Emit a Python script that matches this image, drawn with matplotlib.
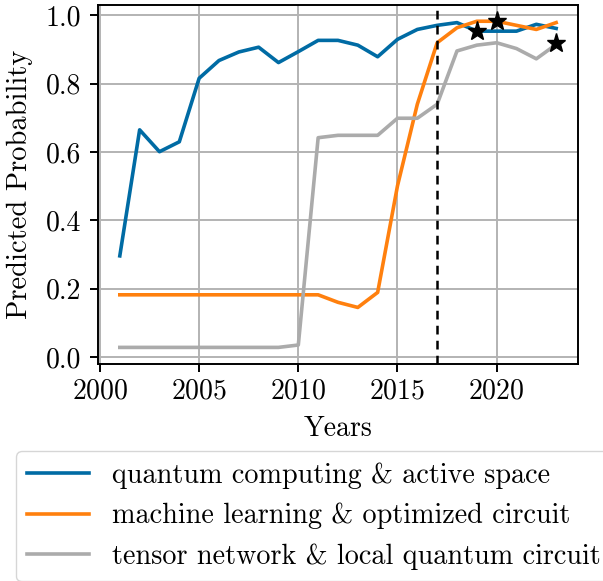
import matplotlib
matplotlib.use('Agg')
import matplotlib.pyplot as plt

plt.style.use('tableau-colorblind10')
plt.rcParams['font.family'] = 'serif'
plt.rcParams['font.serif'] = ['cmr10']
plt.rcParams['mathtext.fontset'] = 'cm'
plt.rcParams['axes.formatter.use_mathtext'] = True
plt.rcParams['font.size'] = 20

years = list(range(2001, 2024))
quantum = [0.296, 0.665, 0.601, 0.630, 0.816, 0.868, 0.893, 0.907, 0.862, 0.894,
           0.927, 0.927, 0.913, 0.879, 0.930, 0.959, 0.971, 0.979, 0.954, 0.954,
           0.954, 0.974, 0.962]
machine = [0.182, 0.182, 0.182, 0.182, 0.182, 0.182, 0.182, 0.182, 0.182, 0.182,
           0.182, 0.160, 0.145, 0.189, 0.501, 0.740, 0.920, 0.964, 0.983, 0.983,
           0.971, 0.959, 0.979]
tensor = [0.028, 0.028, 0.028, 0.028, 0.028, 0.028, 0.028, 0.028, 0.028, 0.035,
          0.642, 0.649, 0.649, 0.649, 0.699, 0.699, 0.740, 0.896, 0.913, 0.920,
          0.903, 0.873, 0.915]
labels = ['quantum computing & active space',
          'machine learning & optimized circuit',
          'tensor network & local quantum circuit']
star_years = [2019, 2020, 2023]
star_vals = [0.954, 0.983, 0.920]
cutoff = 2017

fig = plt.figure(figsize=(6.03, 5.81), dpi=100)
ax = fig.add_axes([0.1625, 0.374, 0.796, 0.6175])

for series, lab in zip([quantum, machine, tensor], labels):
    ax.plot(years, series, lw=2.6, label=lab)
ax.axvline(cutoff, color='black', ls='--', lw=1.8, dashes=(3.5, 2.5))
ax.plot(star_years, star_vals, '*', color='black', ms=14, zorder=5)

ax.grid(True, color='#b3b3b3', lw=1.4)
ax.set_axisbelow(True)
for sp in ax.spines.values():
    sp.set_linewidth(1.4)
ax.tick_params(axis='both', length=5.5, width=1.4)
ax.tick_params(axis='x', pad=5)
ax.tick_params(axis='y', pad=6.5)
ax.set_xlabel('Years', labelpad=8)
ax.set_ylabel('Predicted Probability', labelpad=9, fontsize=20.5)
ax.set_xticks([2000, 2005, 2010, 2015, 2020])
ax.set_yticks([0.0, 0.2, 0.4, 0.6, 0.8, 1.0])
ax.set_yticklabels(['0.0', '0.2', '0.4', '0.6', '0.8', '1.0'])

ax.legend(loc='upper left', bbox_to_anchor=(16 / 603, 1 - 451 / 581),
          bbox_transform=fig.transFigure, borderaxespad=0, handlelength=2.2,
          fontsize=20.3)

fig.savefig('out.png', dpi=100)
